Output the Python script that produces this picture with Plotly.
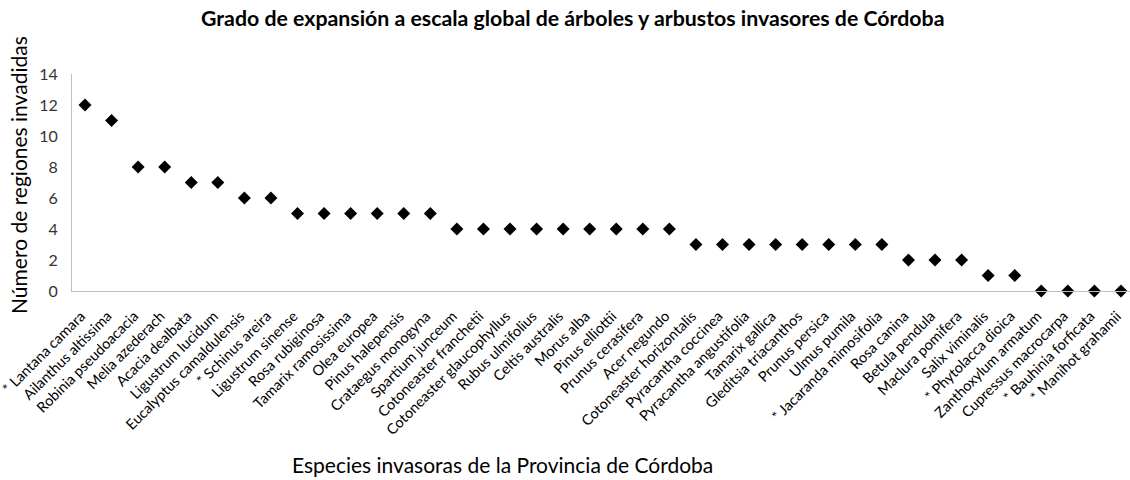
import plotly.graph_objects as go

species = [
    "* Lantana camara", "Ailanthus altissima", "Robinia pseudoacacia", "Melia azederach",
    "Acacia dealbata", "Ligustrum lucidum", "Eucalyptus camaldulensis", "* Schinus areira",
    "Ligustrum sinense", "Rosa rubiginosa", "Tamarix ramosissima", "Olea europea",
    "Pinus halepensis", "Crataegus monogyna", "Spartium junceum", "Cotoneaster franchetii",
    "Cotoneaster glaucophyllus", "Rubus ulmifolius", "Celtis australis", "Morus alba",
    "Pinus elliottii", "Prunus cerasifera", "Acer negundo", "Cotoneaster horizontalis",
    "Pyracantha coccinea", "Pyracantha angustifolia", "Tamarix gallica", "Gleditsia triacanthos",
    "Prunus persica", "Ulmus pumila", "* Jacaranda mimosifolia", "Rosa canina",
    "Betula pendula", "Maclura pomifera", "Salix viminalis", "* Phytolacca dioica",
    "Zanthoxylum armatum", "Cupressus macrocarpa", "* Bauhinia forficata", "* Manihot grahamii",
]
regions = [12, 11, 8, 8, 7, 7, 6, 6, 5, 5, 5, 5, 5, 5, 4, 4, 4, 4, 4, 4, 4, 4, 4,
           3, 3, 3, 3, 3, 3, 3, 3, 2, 2, 2, 1, 1, 0, 0, 0, 0]
y_ticks = [0, 2, 4, 6, 8, 10, 12, 14]

title_text = "Grado de expansión a escala global de árboles y arbustos invasores de Córdoba"
x_title = "Especies invasoras de la Provincia de Córdoba"
y_title = "Número de regiones invadidas"

FONT = "Lato"
L, R, T, B = 72, 0, 74, 189
W, H = 1130, 480

fig = go.Figure(go.Scatter(
    x=list(range(len(species))), y=regions, mode="markers",
    marker=dict(symbol="diamond", size=10, color="black"),
    cliponaxis=False, hoverinfo="skip",
))

fig.update_layout(
    width=W, height=H,
    margin=dict(l=L, r=R, t=T, b=B, autoexpand=False),
    plot_bgcolor="white", paper_bgcolor="white",
    showlegend=False,
    font=dict(family=FONT, color="black"),
    xaxis=dict(
        range=[-0.49, 39.34], tickmode="array",
        tickvals=list(range(len(species))), ticktext=species,
        tickangle=-45, tickfont=dict(size=14.5, family=FONT, color="black"),
        showgrid=False, zeroline=False, showline=True, linecolor="#bfbfbf", linewidth=1,
        ticks="", fixedrange=True, automargin=False,
        ticklabeloverflow="allow", ticklabelshift=-4, ticklabelstandoff=10,
    ),
    yaxis=dict(
        range=[0, 14], tickmode="array", tickvals=y_ticks,
        tickfont=dict(size=16, family=FONT, color="#333333"),
        showgrid=False, zeroline=False, showline=True, linecolor="#bfbfbf", linewidth=1,
        ticks="", fixedrange=True, automargin=False, ticklabelstandoff=10,
        ticklabeloverflow="allow",
    ),
)

pw = W - L - R
ph = H - T - B


def px_annot(text, px, py, size, angle=0):
    return dict(text=text, x=(px - L) / pw, y=(H - B - py) / ph,
                xref="paper", yref="paper", xanchor="center", yanchor="middle",
                textangle=angle, showarrow=False,
                font=dict(size=size, family=FONT, color="black"))


fig.update_layout(annotations=[
    px_annot("<b>" + title_text + "</b>", 572, 18, 21.3),
    px_annot(x_title, 502, 465, 21),
    px_annot(y_title, 18, 175, 21, -90),
])

fig.write_html(
    "out.html",
    config={"displayModeBar": False},
    post_script="document.body.style.margin='0';document.body.style.overflow='hidden';",
)
